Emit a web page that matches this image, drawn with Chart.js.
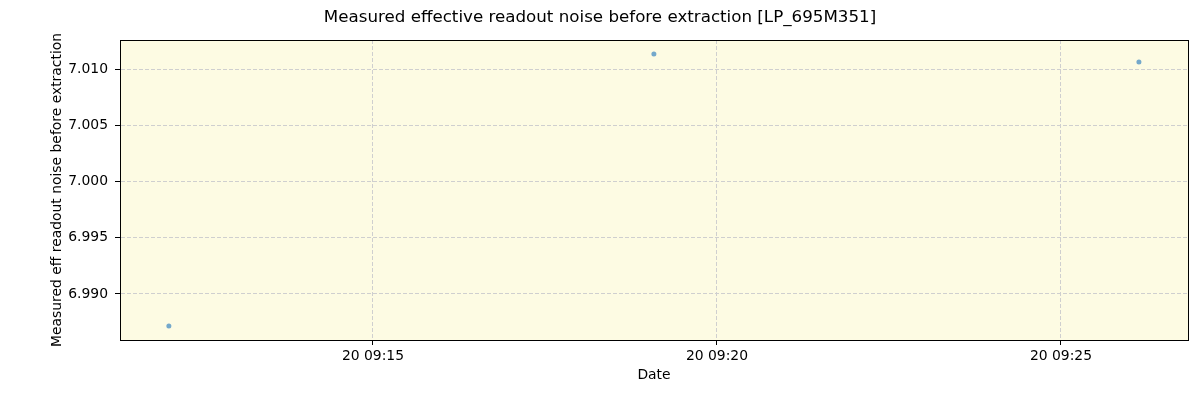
<!DOCTYPE html>
<html>
<head>
<meta charset="utf-8">
<script src="https://cdn.jsdelivr.net/npm/chart.js@4/dist/chart.umd.min.js"></script>
<style>
  html, body { margin: 0; padding: 0; background: #fff; }
  #wrap { width: 1200px; height: 400px; }
</style>
</head>
<body>
<div id="wrap"><canvas id="c" width="1200" height="400"></canvas></div>
<script>
// times in seconds after 09:00 on the 20th
const times = [722, 1145, 1568];
const noise = [6.98716, 7.01133, 7.01062];
const xTicks = [900, 1200, 1500];
const yTicks = [6.990, 6.995, 7.000, 7.005, 7.010];
const xMin = 679.4, xMax = 1610.8;
const yMin = 6.98591, yMax = 7.01258;

const fmtTime = (s) => {
  const h = 9 + Math.floor(s / 3600);
  const m = Math.floor((s % 3600) / 60);
  return '20 ' + String(h).padStart(2, '0') + ':' + String(m).padStart(2, '0');
};

// plot background + box around the axes
const frame = {
  id: 'frame',
  beforeDraw(chart) {
    const a = chart.chartArea, ctx = chart.ctx;
    ctx.save();
    ctx.fillStyle = '#fdfbe3';
    ctx.fillRect(a.left, a.top, a.right - a.left, a.bottom - a.top);
    ctx.restore();
  },
  afterDraw(chart) {
    const a = chart.chartArea, ctx = chart.ctx;
    ctx.save();
    ctx.strokeStyle = '#000';
    ctx.lineWidth = 1;
    ctx.strokeRect(a.left + 0.5, a.top + 0.5, a.right - a.left, a.bottom - a.top);
    ctx.restore();
  }
};

const font = 'DejaVu Sans';

new Chart(document.getElementById('c'), {
  type: 'scatter',
  data: {
    datasets: [{
      data: times.map((t, i) => ({ x: t, y: noise[i] })),
      pointRadius: 2.5,
      pointBackgroundColor: 'rgba(70,140,195,0.75)',
      pointBorderWidth: 0
    }]
  },
  options: {
    responsive: false,
    animation: false,
    layout: { padding: { left: 12, right: 12, top: 0, bottom: 0 } },
    plugins: {
      legend: { display: false },
      tooltip: { enabled: false },
      title: {
        display: true,
        text: 'Measured effective readout noise before extraction [LP_695M351]',
        color: '#000',
        font: { family: font, size: 16.7, weight: 'normal' },
        padding: { top: 8, bottom: 11.96 }
      }
    },
    scales: {
      x: {
        type: 'linear',
        min: xMin,
        max: xMax,
        afterBuildTicks: (s) => { s.ticks = xTicks.map(v => ({ value: v })); },
        afterFit: (s) => { s.height = 60; },
        ticks: {
          callback: (v) => fmtTime(v),
          color: '#000',
          font: { family: font, size: 13.9 },
          maxRotation: 0,
          padding: 3.5
        },
        grid: {
          color: '#cfcfcf',
          tickColor: '#000',
          tickLength: 5,
          tickBorderDash: [],
          drawTicks: true
        },
        border: { display: true, color: '#000', dash: [4, 2] },
        title: {
          display: true,
          text: 'Date',
          color: '#000',
          font: { family: font, size: 13.9 },
          padding: { top: 0, bottom: 16.5 }
        }
      },
      y: {
        type: 'linear',
        min: yMin,
        max: yMax,
        afterBuildTicks: (s) => { s.ticks = yTicks.map(v => ({ value: v })); },
        afterFit: (s) => { s.width = 108; },
        ticks: {
          callback: (v) => v.toFixed(3),
          color: '#000',
          font: { family: font, size: 13.9 },
          padding: 7
        },
        grid: {
          color: '#cfcfcf',
          tickColor: '#000',
          tickLength: 5,
          tickBorderDash: [],
          drawTicks: true
        },
        border: { display: true, color: '#000', dash: [4, 2] },
        title: {
          display: true,
          text: 'Measured eff readout noise before extraction',
          color: '#000',
          font: { family: font, size: 13.9 },
          padding: { top: 37.5, bottom: 0 }
        }
      }
    }
  },
  plugins: [frame]
});
</script>
</body>
</html>
